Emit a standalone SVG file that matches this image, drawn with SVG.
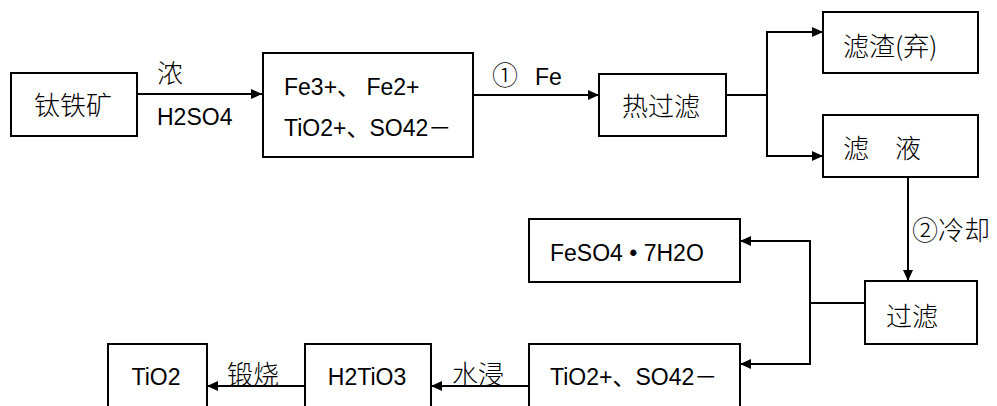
<svg xmlns="http://www.w3.org/2000/svg" width="997" height="406" viewBox="0 0 997 406">
<style>
.box{fill:#fff;stroke:#000;stroke-width:2}
.ln{fill:none;stroke:#000;stroke-width:2}
.t{font-family:"Liberation Sans","Noto Sans CJK SC",sans-serif;font-size:23px;fill:#000}
.c{font-family:"Noto Sans CJK SC",sans-serif;font-size:26px;font-weight:300;fill:#000}
</style>
<defs>
<marker id="ah" markerUnits="userSpaceOnUse" markerWidth="12" markerHeight="10" refX="11" refY="5" orient="auto">
<path d="M0,0 L11,5 L0,10 z" fill="#000"/>
</marker>
</defs>
<rect width="997" height="406" fill="#fff"/>
<g id="connectors">
<path class="ln" d="M137,94 H262" marker-end="url(#ah)"/>
<path class="ln" d="M473,95 H599" marker-end="url(#ah)"/>
<path class="ln" d="M726,95 H767 M767,32 V156"/>
<path class="ln" d="M766,32 H823" marker-end="url(#ah)"/>
<path class="ln" d="M766,156 H823" marker-end="url(#ah)"/>
<path class="ln" d="M908,177 V281" marker-end="url(#ah)"/>
<path class="ln" d="M865,303 H810 M810,240 V365"/>
<path class="ln" d="M811,241 H740" marker-end="url(#ah)"/>
<path class="ln" d="M811,364 H740" marker-end="url(#ah)"/>
<path class="ln" d="M529,386 H431" marker-end="url(#ah)"/>
<path class="ln" d="M305,386 H207" marker-end="url(#ah)"/>
<text class="c" x="157" y="83">浓</text>
<text class="t" x="157" y="125">H2SO4</text>
<text class="c" x="492" y="85">①</text>
<text class="t" x="535" y="85">Fe</text>
<text class="c" x="912" y="240">②冷却</text>
<text class="c" x="227" y="384">锻烧</text>
<text class="c" x="452" y="384">水浸</text>
</g>
<g id="n1"><rect class="box" x="11" y="73" width="126" height="63"/><text class="c" x="73" y="115" text-anchor="middle">钛铁矿</text></g>
<g id="n2"><rect class="box" x="263" y="53" width="210" height="104"/><text class="t" x="284" y="95">Fe3+、 Fe2+</text><text class="t" x="284" y="136">TiO2+、SO42－</text></g>
<g id="n3"><rect class="box" x="599" y="74" width="127" height="62"/><text class="c" x="661" y="116" text-anchor="middle">热过滤</text></g>
<g id="n4"><rect class="box" x="823" y="12" width="155" height="61"/><text class="c" x="843" y="56">滤渣(弃)</text></g>
<g id="n5"><rect class="box" x="823" y="115" width="155" height="62"/><text class="c" x="843" y="158">滤　液</text></g>
<g id="n6"><rect class="box" x="865" y="281" width="112" height="63"/><text class="c" x="886" y="326">过滤</text></g>
<g id="n7"><rect class="box" x="529" y="219" width="211" height="63"/><text class="t" x="550" y="261">FeSO4 • 7H2O</text></g>
<g id="n8"><rect class="box" x="529" y="344" width="211" height="80"/><text class="t" x="550" y="385">TiO2+、SO42－</text></g>
<g id="n9"><rect class="box" x="305" y="344" width="126" height="80"/><text class="t" x="367" y="385" text-anchor="middle">H2TiO3</text></g>
<g id="n10"><rect class="box" x="108" y="344" width="99" height="80"/><text class="t" x="156" y="385" text-anchor="middle">TiO2</text></g>
</svg>
